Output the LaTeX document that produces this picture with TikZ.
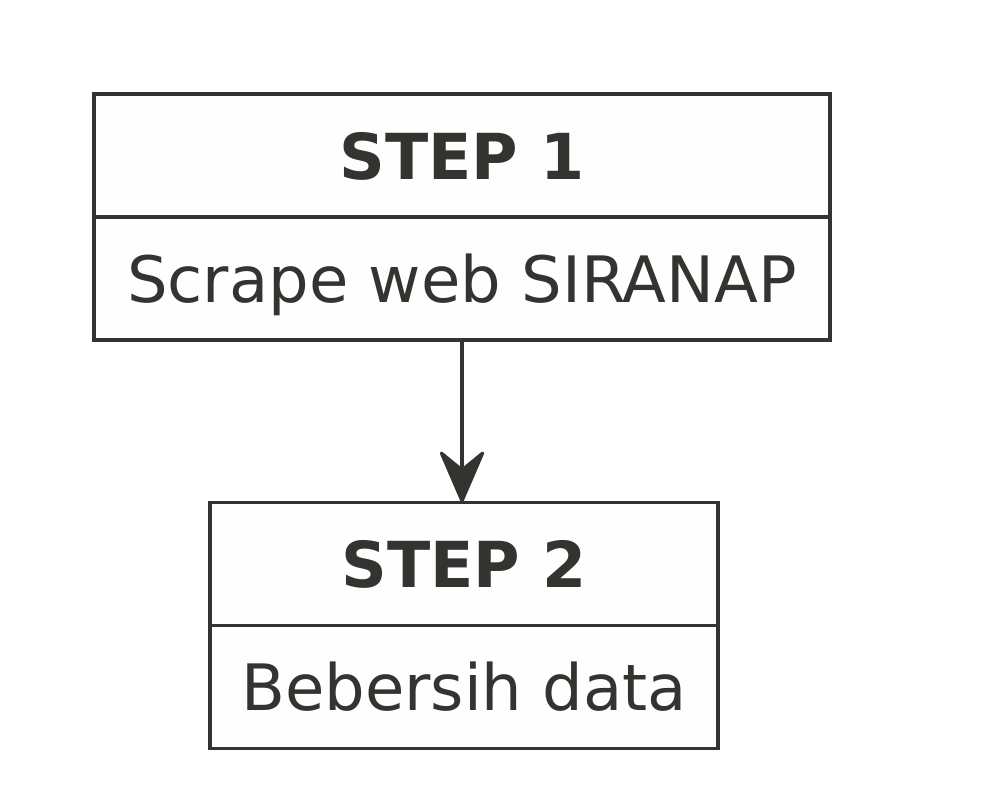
\documentclass[tikz,border=0pt]{standalone}
\usepackage{fontspec}
\setmainfont{DejaVu Sans}
\usetikzlibrary{positioning,arrows.meta}
\definecolor{ink}{RGB}{51,51,48}
\definecolor{paper}{RGB}{254,254,254}
\begin{document}
\begin{tikzpicture}%
	[x=0.5pt, y=-0.5pt,
	stephead/.style={draw=ink, fill=paper, line width=1.6pt, outer sep=0pt, inner sep=0pt,
		text=ink, font=\fontsize{31.7}{38}\selectfont\bfseries,
		minimum height=61.5pt, text height=23.5pt, text depth=0pt},
	stepbody/.style={draw=ink, fill=paper, line width=1.6pt, outer sep=0pt, inner sep=0pt,
		text=ink, font=\fontsize{32}{38}\selectfont,
		minimum height=61.5pt, text height=23.5pt, text depth=0pt},
	flow/.style={draw=ink, line width=1.6pt,
		-{Stealth[length=28.5pt, width=24.5pt, inset=10pt, round]}}]
%
\useasboundingbox (0,0) rectangle (1000,804);
%%
%% Step 1
%%
\node[stephead, minimum width=368pt] (step1head) at (462,155.5) {STEP 1};
\node[stepbody, minimum width=368pt, below=0pt of step1head] (step1body) {Scrape web SIRANAP};
%%
%% Step 2
%%
\node[stephead, minimum width=254pt] (step2head) at (464,564) {STEP 2};
\node[stepbody, minimum width=254pt, below=0pt of step2head] (step2body) {Bebersih data};
%%
%% Flow
%%
\draw[flow] (step1body.south -| 462,0) -- (step2head.north -| 462,0);
\end{tikzpicture}
\end{document}
